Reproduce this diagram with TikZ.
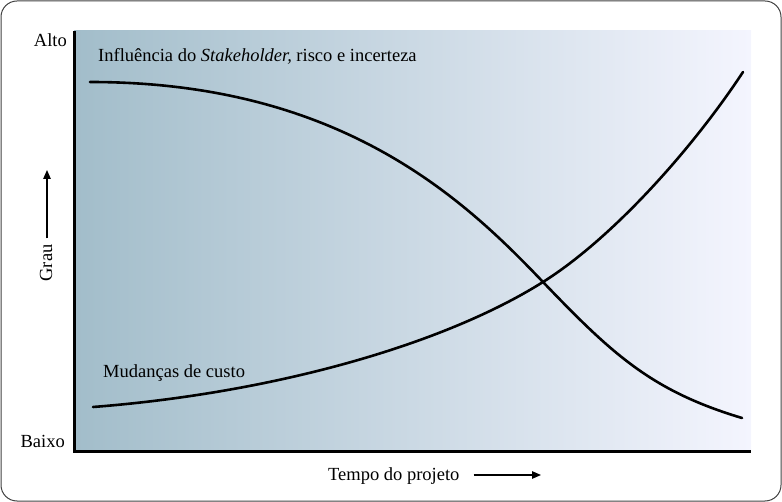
\documentclass[tikz,border=0pt]{standalone}
\usepackage{fontspec}
\setmainfont{Liberation Serif}
\usetikzlibrary{arrows.meta, positioning}

\definecolor{plotleft}{HTML}{A2BDCA}
\definecolor{plotright}{HTML}{F4F5FE}

\begin{document}
\begin{tikzpicture}[
    x=1pt, y=-1pt,
    lbl/.style={inner sep=0pt, font=\fontsize{18.5}{22}\selectfont},
    curve/.style={line width=2.6pt, line cap=round},
    axis/.style={line width=3pt, line join=miter},
    arrow/.style={-{Triangle[length=9pt, width=7.5pt]}, line width=1.3pt},
]
\useasboundingbox (0,0) rectangle (782,502);

% frame and shaded plot area
\draw[line width=1pt, draw=black!75, rounded corners=16pt] (1,1) rectangle (781,501);
\shade[left color=plotleft, right color=plotright] (74,31) rectangle (751,452);
\draw[axis] (74,31) -- (74,452) -- (751,452);

% curves, crossing in the middle
\coordinate (cross) at (543,282);
\draw[curve] (90,82) .. controls (340,82) and (463,198) .. (cross)
    .. controls (613,355) and (652,391) .. (742,418);
\draw[curve] (93,407) .. controls (273,393) and (443,345) .. (cross)
    .. controls (613,238) and (693,148) .. (743,72);

% labels
\node[lbl, anchor=base east] (high) at (67,47) {Alto};
\node[lbl, anchor=base east] (low) at (65,447) {Baixo};
\node[lbl, anchor=base west] (influence) at (98,62) {Influência do \textit{Stakeholder,} risco e incerteza};
\node[lbl, anchor=base west] (cost) at (103,378) {Mudanças de custo};
\node[lbl, rotate=90, anchor=base] (degree) at (52,263) {Grau};
\node[lbl, anchor=base west] (time) at (328,480) {Tempo do projeto};

% axis arrows
\coordinate (degreetip) at (47,170);
\coordinate (timetip) at (541,475);
\draw[arrow] ([yshift=6pt]degree.east -| degreetip) -- (degreetip);
\draw[arrow] ([xshift=14pt]time.east |- timetip) -- (timetip);

\end{tikzpicture}
\end{document}
